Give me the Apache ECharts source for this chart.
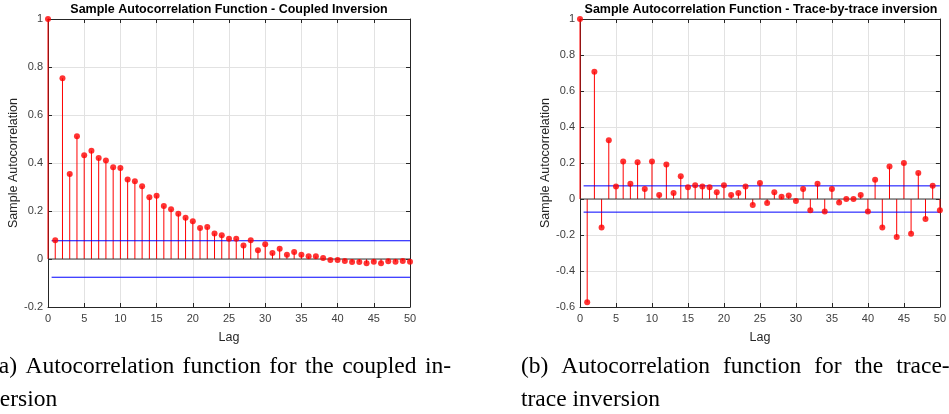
<!DOCTYPE html>
<html>
<head>
<meta charset="utf-8">
<script src="https://cdn.jsdelivr.net/npm/echarts@6/dist/echarts.min.js"></script>
<style>
  html, body { margin: 0; padding: 0; background: #fff; }
  #chart { width: 949px; height: 414px; }
</style>
</head>
<body>
<div id="chart"></div>
<script>
// lags shared by both panels
const lags = [0, 1, 2, 3, 4, 5, 6, 7, 8, 9, 10, 11, 12, 13, 14, 15, 16, 17, 18, 19, 20,
  21, 22, 23, 24, 25, 26, 27, 28, 29, 30, 31, 32, 33, 34, 35, 36, 37, 38, 39, 40,
  41, 42, 43, 44, 45, 46, 47, 48, 49, 50];

// (a) coupled inversion
const coupledAcf = [1, 0.078, 0.753, 0.354, 0.511, 0.432, 0.451, 0.421, 0.41, 0.382, 0.379,
  0.331, 0.324, 0.303, 0.257, 0.264, 0.221, 0.207, 0.189, 0.172, 0.157,
  0.129, 0.133, 0.106, 0.099, 0.084, 0.084, 0.056, 0.078, 0.036, 0.061,
  0.025, 0.043, 0.018, 0.029, 0.018, 0.011, 0.011, 0.004, -0.004, -0.004,
  -0.008, -0.012, -0.012, -0.018, -0.011, -0.018, -0.009, -0.011, -0.008, -0.011];

// (b) trace-by-trace inversion
const traceAcf = [1, -0.574, 0.707, -0.159, 0.326, 0.070, 0.209, 0.085, 0.204, 0.056, 0.209,
  0.022, 0.191, 0.033, 0.126, 0.065, 0.076, 0.070, 0.065, 0.037, 0.076,
  0.022, 0.033, 0.070, -0.033, 0.089, -0.022, 0.037, 0.013, 0.019, -0.011,
  0.056, -0.063, 0.085, -0.070, 0.056, -0.019, 0.0, 0.0, 0.022, -0.070,
  0.107, -0.159, 0.181, -0.211, 0.200, -0.193, 0.144, -0.111, 0.074, -0.063];

// confidence bounds (+/-) and their lag span
const coupledBound = 0.076;
const traceBound = 0.073;
const boundLags = [0.5, 50];
const baseLags = [0, 50];

// tick labels
const xTicks = [0, 5, 10, 15, 20, 25, 30, 35, 40, 45, 50];
const yTicksA = [-0.2, 0, 0.2, 0.4, 0.6, 0.8, 1];
const yTicksB = [-0.6, -0.4, -0.2, 0, 0.2, 0.4, 0.6, 0.8, 1];

const titles = [
  'Sample Autocorrelation Function - Coupled Inversion',
  'Sample Autocorrelation Function - Trace-by-trace inversion'
];

// subfigure captions (page is cropped, so the edges get cut off)
const captionA = ['(a) Autocorrelation function for the coupled in-', 'version'];
const captionB = ['(b) Autocorrelation function for the trace-by-', 'trace inversion'];

const font = 'Liberation Sans, Arial, Helvetica, sans-serif';
const serifFont = '23.5px "Liberation Serif", "Times New Roman", serif';
const axisColor = '#262626';
const gridColor = '#e2e2e2';

const chart = echarts.init(document.getElementById('chart'));

const grids = [
  { left: 48, top: 19, width: 362, height: 288 },
  { left: 580, top: 19, width: 362, height: 288 }
];

function xAxes(g) {
  const base = {
    type: 'value', gridIndex: g,
    min: xTicks[0], max: xTicks[xTicks.length - 1], interval: xTicks[1] - xTicks[0],
    axisLine: { onZero: false, lineStyle: { color: axisColor, width: 1 } },
    axisTick: { inside: true, length: 4, lineStyle: { color: axisColor } }
  };
  return [
    Object.assign({}, base, {
      position: 'bottom',
      axisLabel: { color: '#404040', fontSize: 11, fontFamily: font, margin: 6 },
      splitLine: { show: true, lineStyle: { color: gridColor } },
      name: 'Lag', nameLocation: 'middle', nameGap: 24,
      nameTextStyle: { color: '#262626', fontSize: 12.5, fontFamily: font }
    }),
    Object.assign({}, base, {
      position: 'top',
      axisLabel: { show: false },
      splitLine: { show: false }
    })
  ];
}

function yAxes(g, ticks) {
  const base = {
    type: 'value', gridIndex: g,
    min: ticks[0], max: ticks[ticks.length - 1], interval: 0.2,
    axisLine: { onZero: false, lineStyle: { color: axisColor, width: 1 } },
    axisTick: { inside: true, length: 4, lineStyle: { color: axisColor } }
  };
  return [
    Object.assign({}, base, {
      position: 'left',
      axisLabel: { color: '#404040', fontSize: 11, fontFamily: font, margin: 5 },
      splitLine: { show: true, lineStyle: { color: gridColor } },
      name: 'Sample Autocorrelation', nameLocation: 'middle', nameGap: 27,
      nameTextStyle: { color: '#262626', fontSize: 12.5, fontFamily: font }
    }),
    Object.assign({}, base, {
      position: 'right',
      axisLabel: { show: false },
      splitLine: { show: false }
    })
  ];
}

function panelSeries(acf, bound, xi, yi) {
  const pts = lags.map((l, i) => [l, acf[i]]);
  return [
    {
      type: 'custom', xAxisIndex: xi, yAxisIndex: yi, z: 2,
      data: pts,
      encode: { x: 0, y: 1 },
      renderItem: function (params, api) {
        const p0 = api.coord([api.value(0), 0]);
        const p1 = api.coord([api.value(0), api.value(1)]);
        return {
          type: 'line',
          shape: { x1: p0[0], y1: p0[1], x2: p1[0], y2: p1[1] },
          style: { stroke: '#ff0000', lineWidth: 1 }
        };
      }
    },
    {
      type: 'line', xAxisIndex: xi, yAxisIndex: yi, z: 3,
      data: baseLags.map(l => [l, 0]), symbol: 'none',
      lineStyle: { color: '#3a3a3a', width: 1 }
    },
    {
      type: 'line', xAxisIndex: xi, yAxisIndex: yi, z: 3,
      data: boundLags.map(l => [l, bound]), symbol: 'none',
      lineStyle: { color: '#0000ff', width: 1 }
    },
    {
      type: 'line', xAxisIndex: xi, yAxisIndex: yi, z: 3,
      data: boundLags.map(l => [l, -bound]), symbol: 'none',
      lineStyle: { color: '#0000ff', width: 1 }
    },
    {
      type: 'scatter', xAxisIndex: xi, yAxisIndex: yi, z: 4,
      data: pts, symbol: 'circle', symbolSize: 6, clip: false,
      itemStyle: { color: '#ff0000' }
    }
  ];
}

// justified caption lines, words spread across the column width
const measure = document.createElement('canvas').getContext('2d');
measure.font = serifFont;

function textEl(text, x, y) {
  return {
    type: 'text', x: x, y: y,
    style: { text: text, font: serifFont, fill: '#000', verticalAlign: 'middle' }
  };
}

function justifiedLine(line, x0, width, y) {
  const words = line.split(' ');
  const widths = words.map(w => measure.measureText(w).width);
  const total = widths.reduce((a, b) => a + b, 0);
  const gap = (width - total) / (words.length - 1);
  let x = x0;
  return words.map((w, i) => {
    const el = textEl(w, x, y);
    x += widths[i] + gap;
    return el;
  });
}

function captionEls(lines, x0, width, x1) {
  return justifiedLine(lines[0], x0, width, 367)
    .concat([textEl(lines[1], x1, 400)]);
}

const option = {
  animation: false,
  backgroundColor: '#fff',
  title: titles.map((t, i) => ({
    text: t,
    left: grids[i].left + grids[i].width / 2,
    top: 3,
    padding: 0,
    textAlign: 'center',
    textStyle: { fontSize: 12.5, fontWeight: 'bold', color: '#000', fontFamily: font }
  })),
  grid: grids,
  xAxis: xAxes(0).concat(xAxes(1)),
  yAxis: yAxes(0, yTicksA).concat(yAxes(1, yTicksB)),
  series: panelSeries(coupledAcf, coupledBound, 0, 0)
    .concat(panelSeries(traceAcf, traceBound, 2, 2)),
  graphic: captionEls(captionA, -9, 460, -12).concat(captionEls(captionB, 521, 460, 521))
};

chart.setOption(option);
</script>
</body>
</html>
